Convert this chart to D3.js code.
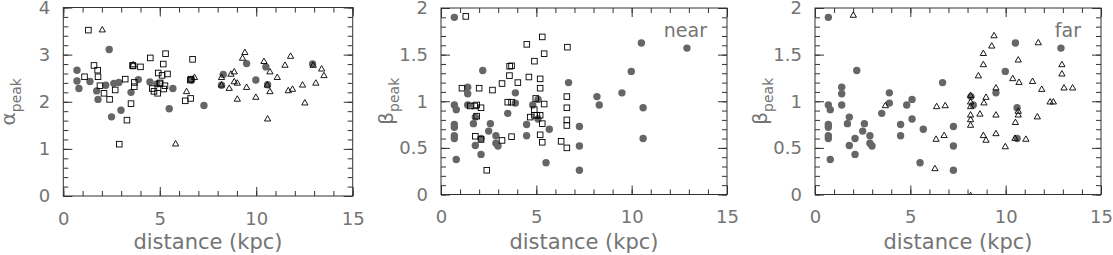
<!DOCTYPE html>
<html><head><meta charset="utf-8">
<script src="https://cdn.jsdelivr.net/npm/d3@7/dist/d3.min.js"></script>
<style>
html,body{margin:0;padding:0;background:#fff;}
svg text{font-family:"DejaVu Sans",sans-serif;font-weight:normal;fill:#747474;}
</style></head><body>
<svg id="chart" width="1113" height="255"></svg>
<script>
// ---------- data ----------
const xTicks = [0, 5, 10, 15];
const alphaTicks = [0, 1, 2, 3, 4];
const betaTicks = [0, 0.5, 1, 1.5, 2];
const betaTickLabels = ["0", "0.5", "1", "1.5", "2"];

// alpha_peak panel
const alphaCircles = [[0.71,2.67],[0.71,2.44],[0.81,2.28],[1.38,2.43],[1.73,2.23],[1.80,2.05],[2.2,2.35],[2.38,3.11],[2.50,1.68],[2.62,2.39],[2.88,2.41],[2.99,1.82],[3.51,2.20],[3.89,2.47],[4.49,2.42],[4.85,2.38],[5.49,1.85],[5.68,2.28],[6.65,2.46],[7.29,1.92],[8.29,2.58],[8.2,2.35],[9.50,2.81],[9.98,2.46],[10.5,2.74],[10.59,2.36],[12.92,2.80]];
const alphaSquares = [[1.30,3.52],[1.59,2.77],[1.78,2.67],[1.10,2.53],[1.80,2.53],[1.90,2.34],[2.11,2.18],[2.40,2.05],[2.69,2.25],[2.90,1.10],[3.21,2.48],[3.30,1.61],[3.51,1.96],[3.59,2.77],[3.62,2.76],[3.68,2.41],[3.68,2.32],[4.0,2.74],[4.51,2.93],[4.61,2.28],[4.70,2.22],[4.89,2.18],[4.92,2.61],[5.0,2.38],[5.02,2.40],[5.12,2.56],[5.18,2.80],[5.30,3.02],[5.20,2.27],[5.27,2.34],[5.40,2.59],[6.32,2.02],[6.60,2.07],[6.58,2.46],[6.62,2.48],[6.70,2.90]];
const alphaTriangles = [[2.02,3.52],[5.82,1.10],[6.39,2.21],[6.8,2.51],[9.41,3.04],[9.29,2.92],[10.4,2.85],[11.78,2.96],[11.49,2.77],[10.71,2.63],[8.86,2.63],[8.69,2.58],[8.2,2.51],[8.2,2.35],[8.86,2.42],[9.02,2.39],[8.6,2.28],[9.50,2.30],[9.02,2.05],[9.98,2.09],[11.09,2.51],[10.71,2.21],[10.59,1.63],[11.66,2.23],[11.88,2.26],[12.40,2.35],[12.52,1.97],[13.09,2.39],[12.95,2.77],[13.39,2.69],[13.51,2.55],[10.57,2.35],[3.62,2.78]];

// beta_peak: sources with a unique distance (shown in both panels)
const betaCircles = [[0.70,1.90],[0.70,0.96],[0.80,0.91],[0.70,0.75],[0.70,0.72],[0.70,0.63],[0.70,0.60],[0.80,0.375],[1.40,1.15],[1.40,1.08],[1.40,0.96],[1.70,0.76],[1.80,0.83],[1.80,0.525],[2.10,0.60],[2.10,0.43],[2.19,1.33],[2.50,0.68],[2.59,0.76],[2.88,0.63],[2.88,0.55],[2.99,0.52],[3.50,0.87],[3.90,1.09],[3.90,0.98],[4.49,0.75],[4.49,0.63],[4.81,0.96],[5.09,1.02],[5.09,0.81],[5.51,0.34],[5.68,0.70],[6.69,1.20],[7.26,0.73],[7.26,0.52],[7.26,0.26],[8.18,1.05],[8.30,0.96],[9.49,1.09],[9.98,1.32],[10.51,1.625],[10.6,0.93],[10.6,0.60],[12.9,1.57]];
// near-distance solutions
const betaNearSquares = [[1.30,1.91],[1.10,1.14],[2.0,1.14],[2.70,1.12],[1.54,0.95],[1.77,0.95],[1.87,0.96],[2.10,0.93],[1.87,0.84],[1.80,0.625],[2.10,0.59],[2.40,0.26],[3.20,1.19],[3.59,1.275],[3.70,1.38],[3.60,1.375],[4.03,1.20],[3.50,0.99],[3.70,0.99],[3.20,0.58],[3.70,0.62],[4.50,1.61],[4.61,1.26],[4.90,1.43],[5.31,1.69],[5.41,1.51],[5.20,1.24],[5.20,1.14],[4.97,1.03],[4.89,0.91],[4.68,0.83],[4.90,0.85],[5.03,0.85],[5.20,0.85],[5.41,0.97],[5.31,0.76],[5.20,0.64],[5.31,0.56],[6.30,0.57],[6.60,0.50],[6.63,1.58],[6.60,1.05],[6.60,0.93],[6.60,0.80],[6.60,0.74]];
// far-distance solutions
const betaFarTriangles = [[2.01,1.92],[3.69,0.95],[6.38,0.94],[6.83,0.95],[6.35,0.59],[6.77,0.63],[6.29,0.275],[8.16,1.06],[8.16,0.99],[8.16,0.94],[8.16,0.85],[8.16,0.80],[8.16,0.74],[8.65,0.86],[8.86,0.98],[8.97,1.04],[8.83,0.63],[8.97,0.58],[9.49,0.65],[9.49,0.85],[9.49,1.14],[8.57,1.27],[8.83,1.39],[8.83,1.51],[9.27,1.59],[9.39,1.70],[10.66,1.44],[10.37,1.24],[10.70,1.20],[11.41,1.21],[11.89,1.125],[11.71,1.625],[12.95,1.39],[12.95,1.29],[13.06,1.14],[13.51,1.14],[12.33,0.99],[12.5,0.99],[10.66,0.89],[10.66,0.85],[10.51,0.77],[11.66,0.83],[10.49,0.60],[11.06,0.59],[9.98,0.51],[8.16,-0.015]];

// ---------- drawing ----------
const svg = d3.select("#chart");
const frameColor = "#333";
const circleColor = "#666";

function drawPanel(cfg) {
  const g = svg.append("g");
  const x = d3.scaleLinear().domain([0, 15]).range([cfg.left, cfg.right]);
  const y = d3.scaleLinear().domain(cfg.yDomain).range([cfg.bottom, cfg.top]);
  const clipId = "clip" + cfg.id;
  svg.append("clipPath").attr("id", clipId).append("rect")
    .attr("x", cfg.left).attr("y", cfg.top)
    .attr("width", cfg.right - cfg.left).attr("height", cfg.bottom - cfg.top);

  const xMinor = d3.range(0, 15.001, 1);
  const yMinor = d3.range(cfg.yDomain[0], cfg.yDomain[1] + 1e-6, cfg.yMinorStep);
  const majLen = 9, minLen = 5;

  function styleAxis(sel) {
    sel.select(".domain").remove();
    sel.selectAll(".tick line").attr("stroke", frameColor).attr("stroke-width", 1);
  }
  // bottom
  g.append("g").attr("transform", `translate(0,${cfg.bottom})`)
    .call(d3.axisBottom(x).tickValues(xMinor).tickSize(-minLen).tickFormat(""))
    .call(styleAxis);
  g.append("g").attr("transform", `translate(0,${cfg.bottom})`)
    .call(d3.axisBottom(x).tickValues(xTicks).tickSize(-majLen).tickPadding(25).tickFormat(d3.format("d")))
    .call(styleAxis)
    .call(s => s.selectAll("text").attr("font-size", 18).attr("dy", "0.2em").attr("font-family", null));
  // top
  g.append("g").attr("transform", `translate(0,${cfg.top})`)
    .call(d3.axisTop(x).tickValues(xMinor).tickSize(-minLen).tickFormat("")).call(styleAxis);
  g.append("g").attr("transform", `translate(0,${cfg.top})`)
    .call(d3.axisTop(x).tickValues(xTicks).tickSize(-majLen).tickFormat("")).call(styleAxis);
  // left
  g.append("g").attr("transform", `translate(${cfg.left},0)`)
    .call(d3.axisLeft(y).tickValues(yMinor).tickSize(-minLen).tickFormat("")).call(styleAxis);
  g.append("g").attr("transform", `translate(${cfg.left},0)`)
    .call(d3.axisLeft(y).tickValues(cfg.yTicks).tickSize(-majLen).tickPadding(13)
      .tickFormat((d, i) => cfg.yTickLabels[i]))
    .call(styleAxis)
    .call(s => s.selectAll("text").attr("font-size", 18).attr("font-family", null));
  // right
  g.append("g").attr("transform", `translate(${cfg.right},0)`)
    .call(d3.axisRight(y).tickValues(yMinor).tickSize(-minLen).tickFormat("")).call(styleAxis);
  g.append("g").attr("transform", `translate(${cfg.right},0)`)
    .call(d3.axisRight(y).tickValues(cfg.yTicks).tickSize(-majLen).tickFormat("")).call(styleAxis);

  // frame
  g.append("rect").attr("x", cfg.left).attr("y", cfg.top)
    .attr("width", cfg.right - cfg.left).attr("height", cfg.bottom - cfg.top)
    .attr("fill", "none").attr("stroke", frameColor).attr("stroke-width", 1);

  const marks = g.append("g").attr("clip-path", `url(#${clipId})`);
  marks.selectAll("circle.c").data(cfg.circles).enter().append("circle")
    .attr("cx", d => x(d[0])).attr("cy", d => y(d[1])).attr("r", 3.7)
    .attr("fill", circleColor);
  if (cfg.squares) {
    marks.selectAll("rect.s").data(cfg.squares).enter().append("rect")
      .attr("x", d => x(d[0]) - 2.8).attr("y", d => y(d[1]) - 2.8)
      .attr("width", 5.6).attr("height", 5.6)
      .attr("fill", "none").attr("stroke", "#000").attr("stroke-width", 0.9);
  }
  if (cfg.triangles) {
    const tri = d3.symbol().type(d3.symbolTriangle).size(17);
    marks.selectAll("path.t").data(cfg.triangles).enter().append("path")
      .attr("d", tri)
      .attr("transform", d => `translate(${x(d[0])},${y(d[1])})`)
      .attr("fill", "none").attr("stroke", "#000").attr("stroke-width", 0.9);
  }

  // x title
  g.append("text").attr("x", (cfg.left + cfg.right) / 2).attr("y", 249)
    .attr("text-anchor", "middle").attr("font-size", 21).text("distance (kpc)");
  // y title
  const yc = (cfg.top + cfg.bottom) / 2;
  const yt = g.append("text").attr("transform", `translate(${cfg.left - 48},${yc}) rotate(-90)`)
    .attr("text-anchor", "middle").attr("font-size", 20);
  yt.append("tspan").text(cfg.yGreek);
  yt.append("tspan").attr("font-size", 14).attr("dy", 6).text("peak");

  if (cfg.tag) {
    g.append("text").attr("x", cfg.right - 20).attr("y", 37)
      .attr("text-anchor", "end").attr("font-size", 19).text(cfg.tag);
  }
}

drawPanel({id: 1, left: 63.3, right: 352.7, top: 7.5, bottom: 196,
  yDomain: [0, 4], yTicks: alphaTicks, yTickLabels: alphaTicks.map(String), yMinorStep: 0.2,
  yGreek: "α", circles: alphaCircles, squares: alphaSquares, triangles: alphaTriangles});
drawPanel({id: 2, left: 441, right: 727, top: 8, bottom: 194.5,
  yDomain: [0, 2], yTicks: betaTicks, yTickLabels: betaTickLabels, yMinorStep: 0.1,
  yGreek: "β", circles: betaCircles, squares: betaNearSquares, tag: "near"});
drawPanel({id: 3, left: 815, right: 1101, top: 8, bottom: 194.5,
  yDomain: [0, 2], yTicks: betaTicks, yTickLabels: betaTickLabels, yMinorStep: 0.1,
  yGreek: "β", circles: betaCircles, triangles: betaFarTriangles, tag: "far"});
</script>
</body></html>
